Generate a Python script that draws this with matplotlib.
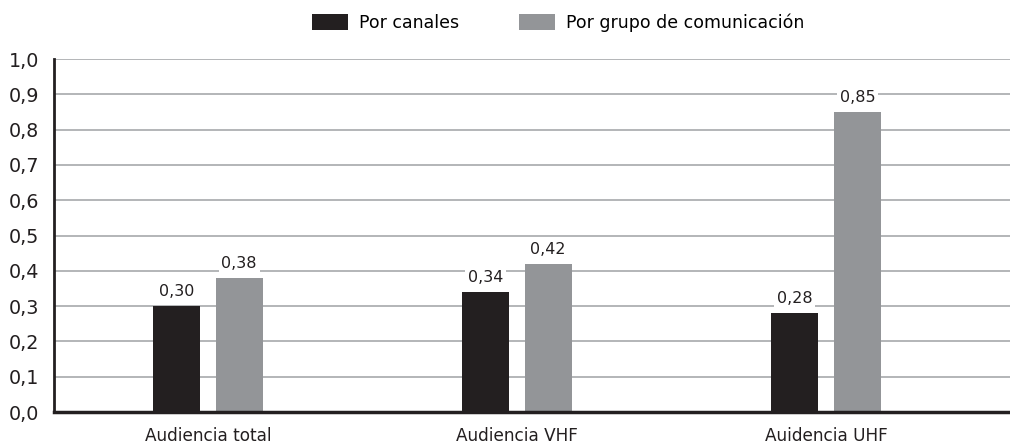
import matplotlib.pyplot as plt
import numpy as np

plt.rcParams['font.family'] = ['DejaVu Sans']

categories = ['Audiencia total', 'Audiencia VHF', 'Auidencia UHF']
por_canales = [0.30, 0.34, 0.28]
por_grupo = [0.38, 0.42, 0.85]
series_names = ['Por canales', 'Por grupo de comunicación']
yticks = [0.0, 0.1, 0.2, 0.3, 0.4, 0.5, 0.6, 0.7, 0.8, 0.9, 1.0]

c_black = '#231f20'
c_gray = '#939598'

fig = plt.figure(figsize=(10.10, 4.46), dpi=100)
ax = fig.add_axes([0.0535, 0.0762, 0.9465, 0.7915])

x = np.arange(len(categories))
w = 0.152
off = 0.101
b1 = ax.bar(x - off, por_canales, w, color=c_black, label=series_names[0], zorder=3)
b2 = ax.bar(x + off, por_grupo, w, color=c_gray, label=series_names[1], zorder=3)

# value labels on white boxes so the gridlines break around them
for bars, vals in [(b1, por_canales), (b2, por_grupo)]:
    for rect, v in zip(bars, vals):
        ax.annotate(f'{v:.2f}'.replace('.', ','),
                    (rect.get_x() + rect.get_width() / 2, v),
                    xytext=(0, 5), textcoords='offset points',
                    ha='center', va='bottom', fontsize=11.5, color='#231f20',
                    bbox=dict(facecolor='white', edgecolor='none', pad=2),
                    zorder=4)

ax.set_xlim(-0.498, 2.595)
ax.set_ylim(0, 1.0)
ax.set_yticks(yticks)
ax.set_yticklabels([f'{t:.1f}'.replace('.', ',') for t in yticks], fontsize=13.8, color='#231f20')
ax.set_xticks(x)
ax.set_xticklabels(categories, fontsize=12.2, color='#231f20')
ax.tick_params(axis='y', length=0, pad=11)
ax.tick_params(axis='x', length=0, pad=11)

ax.yaxis.grid(True, color='#a7a9ac', linewidth=1.2, zorder=0)
ax.set_axisbelow(True)
for s in ['top', 'right']:
    ax.spines[s].set_visible(False)
ax.spines['left'].set_linewidth(2)
ax.spines['left'].set_color(c_black)
ax.spines['bottom'].set_linewidth(2.5)
ax.spines['bottom'].set_color(c_black)
ax.spines['bottom'].set_zorder(5)

fig.legend(loc='upper center', bbox_to_anchor=(0.553, 1.005), ncol=2, frameon=False,
           fontsize=12.5, handlelength=2.07, handleheight=1.1, columnspacing=3.45,
           handletextpad=0.63)

fig.savefig('out.png', dpi=100)
